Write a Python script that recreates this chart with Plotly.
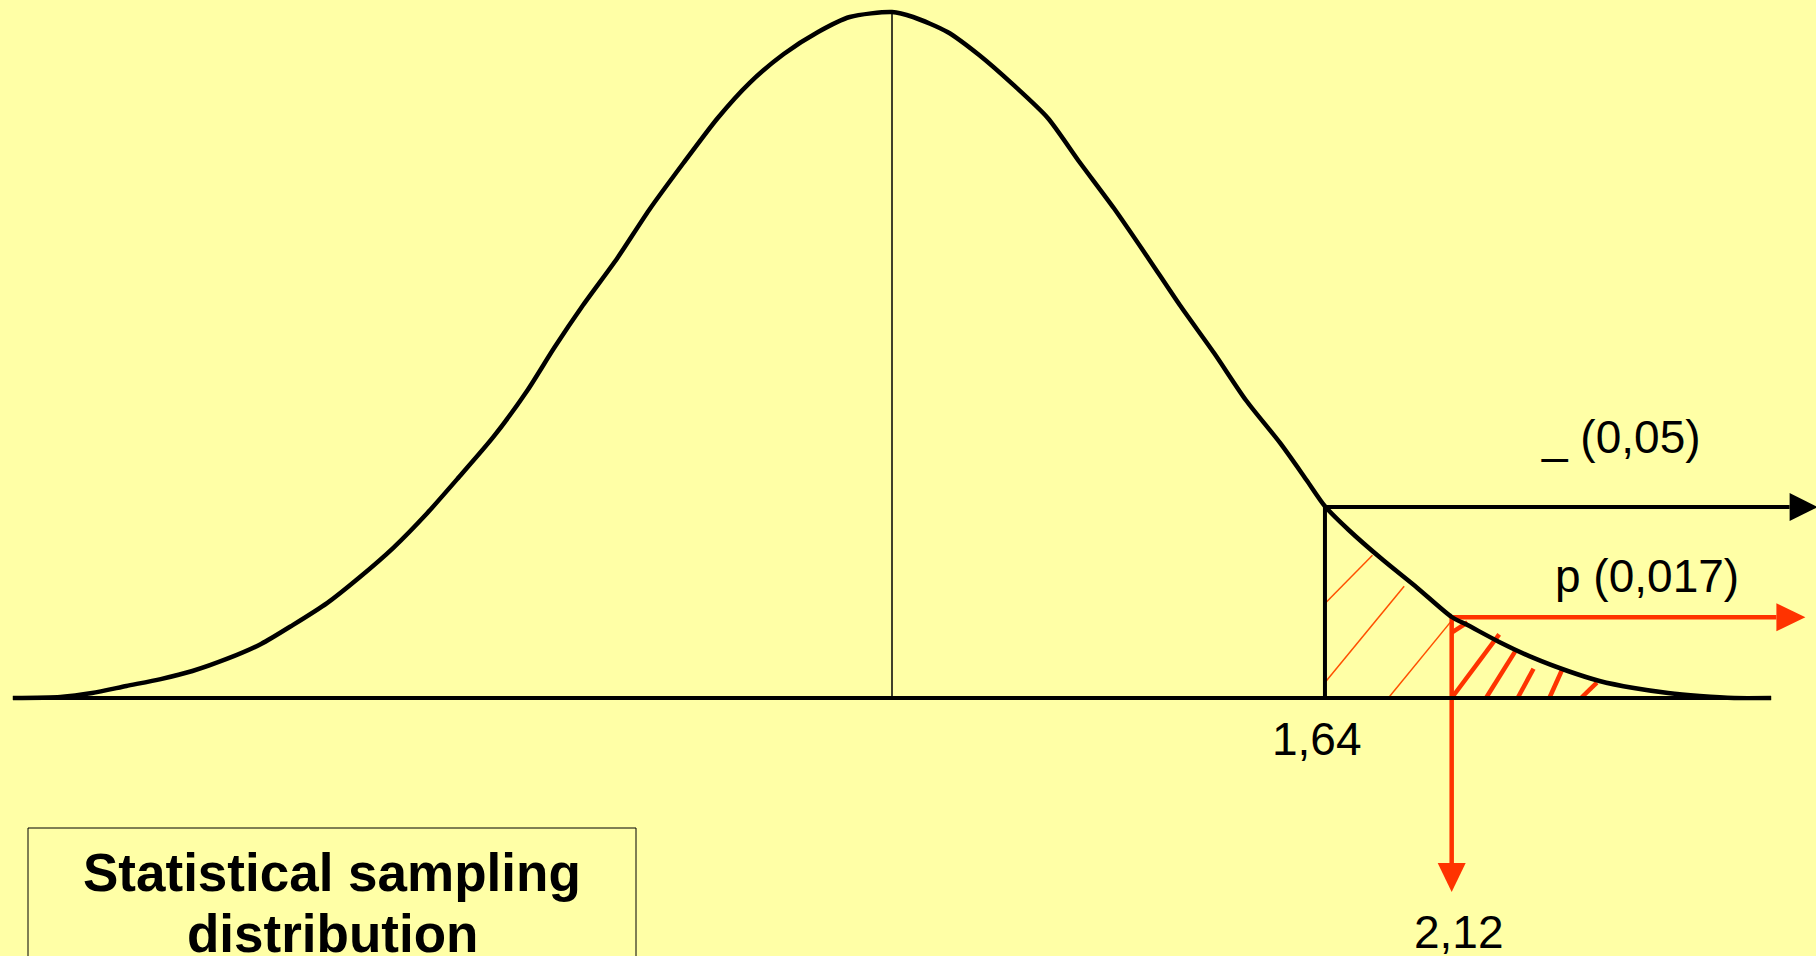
import plotly.graph_objects as go

# standard scores (sd units) and curve heights
z_curve = [-3.33, -3.15, -3.03, -2.90, -2.77, -2.65, -2.52, -2.39, -2.27, -2.14, -2.02,
           -1.89, -1.76, -1.64, -1.51, -1.38, -1.28, -1.17, -1.04, -0.92, -0.79,
           -0.66, -0.54, -0.41, -0.28, -0.16, 0.00, 0.08, 0.21, 0.33,
           0.46, 0.59, 0.71, 0.84, 0.97, 1.09, 1.22, 1.34, 1.47, 1.57,
           1.64, 1.73, 1.86, 1.99, 2.12, 2.18, 2.30, 2.43, 2.56, 2.68,
           2.81, 2.94, 3.06, 3.19, 3.33]
h_curve = [0.0, 0.0006, 0.0029, 0.0070, 0.0110, 0.0157, 0.0227, 0.0314, 0.0424, 0.0552, 0.0698,
           0.0872, 0.1076, 0.1285, 0.1518, 0.1791, 0.2035, 0.2285, 0.2559, 0.2838, 0.3111,
           0.3373, 0.3576, 0.3745, 0.3873, 0.3960, 0.3989, 0.3960, 0.3873, 0.3739,
           0.3565, 0.3373, 0.3117, 0.2849, 0.2559, 0.2285, 0.2006, 0.1733, 0.1483, 0.1268,
           0.1115, 0.0977, 0.0802, 0.0640, 0.0471, 0.0424, 0.0326, 0.0233, 0.0157, 0.0099,
           0.0058, 0.0029, 0.0012, 0.0, 0.0]

z_mean = 0.0
h_mean = 0.398
z_alpha = 1.64
h_alpha = 0.111
z_obs = 2.12
h_obs = 0.047

alpha_text = "_ (0,05)"
p_text = "p (0,017)"
z_alpha_text = "1,64"
z_obs_text = "2,12"
box_lines = ["Statistical sampling", "distribution"]

# hatching under the curve: thin between 1.64 and 2.12, thick beyond 2.12
thin_z0 = [1.64, 1.64, 1.88]
thin_h0 = [0.055, 0.009, 0.0]
thin_z1 = [1.82, 1.94, 2.12]
thin_h1 = [0.083, 0.065, 0.045]
thick_z0 = [2.12, 2.25, 2.37, 2.49, 2.61, 2.12]
thick_h0 = [0.0, 0.0, 0.0, 0.0, 0.0, 0.038]
thick_z1 = [2.30, 2.36, 2.43, 2.54, 2.67, 2.18]
thick_h1 = [0.037, 0.027, 0.017, 0.017, 0.009, 0.044]

bg = "#FFFFA6"
red = "#FF3300"
orange = "#FF5000"
font = "Liberation Sans, Arial, sans-serif"
W, H = 1816, 956


def segments(z0, h0, z1, h1):
    xs, ys = [], []
    for a, b, c, d in zip(z0, h0, z1, h1):
        xs += [a, c, None]
        ys += [b, d, None]
    return xs, ys


fig = go.Figure()

tx, ty = segments(thin_z0, thin_h0, thin_z1, thin_h1)
fig.add_trace(go.Scatter(x=tx, y=ty, mode="lines", line=dict(color=orange, width=1.5)))
kx, ky = segments(thick_z0, thick_h0, thick_z1, thick_h1)
fig.add_trace(go.Scatter(x=kx, y=ky, mode="lines", line=dict(color=red, width=4.5)))

# red arrows from the observed value
fig.add_trace(go.Scatter(x=[z_obs, 3.35], y=[h_obs, h_obs], mode="lines", line=dict(color=red, width=4.5)))
fig.add_trace(go.Scatter(x=[z_obs, z_obs], y=[h_obs, -0.096], mode="lines", line=dict(color=red, width=4.5)))

# black critical value lines
fig.add_trace(go.Scatter(x=[z_alpha, z_alpha], y=[0, h_alpha], mode="lines", line=dict(color="black", width=4)))
fig.add_trace(go.Scatter(x=[z_alpha, 3.40], y=[h_alpha, h_alpha], mode="lines", line=dict(color="black", width=4)))

# baseline, mean line and the curve
fig.add_trace(go.Scatter(x=[z_curve[0], z_curve[-1]], y=[0, 0], mode="lines", line=dict(color="black", width=4)))
fig.add_trace(go.Scatter(x=[z_mean, z_mean], y=[0, h_mean], mode="lines", line=dict(color="black", width=1.5)))
fig.add_trace(go.Scatter(x=z_curve, y=h_curve, mode="lines",
                         line=dict(color="black", width=4.5, shape="spline", smoothing=0.7)))

# arrow heads (pixel sized triangles anchored at the line ends)
heads = [
    (3.40, h_alpha, "M 0,14 L 28,0 L 0,-14 Z", "black"),
    (3.35, h_obs, "M 0,14 L 29,0 L 0,-14 Z", red),
    (z_obs, -0.096, "M -14,0 L 14,0 L 0,-29 Z", red),
]
for ax, ay, path, col in heads:
    fig.add_shape(type="path", path=path, xref="x", yref="y", xsizemode="pixel", ysizemode="pixel",
                  xanchor=ax, yanchor=ay, fillcolor=col, line=dict(color=col, width=0))

# title box
fig.add_shape(type="rect", xref="paper", yref="paper", x0=28 / W, x1=636 / W, y0=-0.1, y1=1 - 828 / H,
              line=dict(color="black", width=1), fillcolor="rgba(0,0,0,0)")

lab = dict(family=font, size=46, color="black")
fig.add_annotation(x=2.76, y=0.152, text=alpha_text, showarrow=False, font=lab)
fig.add_annotation(x=2.86, y=0.071, text=p_text, showarrow=False, font=lab)
fig.add_annotation(x=z_alpha, y=-0.024, text=z_alpha_text, showarrow=False, xshift=-8, font=lab)
fig.add_annotation(x=z_obs, y=-0.136, text=z_obs_text, showarrow=False, xshift=7, font=lab)

bold = dict(family=font, size=53, color="black", weight="bold")
fig.add_annotation(xref="paper", yref="paper", x=332 / W, y=1 - 872 / H, text=box_lines[0],
                   xanchor="center", yanchor="middle", showarrow=False, font=bold)
fig.add_annotation(xref="paper", yref="paper", x=332 / W, y=1 - 933 / H, text=box_lines[1],
                   xanchor="center", yanchor="middle", showarrow=False, font=bold)

fig.update_layout(
    width=W, height=H,
    margin=dict(l=0, r=0, t=0, b=0),
    paper_bgcolor=bg, plot_bgcolor=bg,
    showlegend=False,
    xaxis=dict(range=[-892 / 264, 924 / 264], visible=False, fixedrange=True),
    yaxis=dict(range=[-258 / 1719.7, 698 / 1719.7], visible=False, fixedrange=True),
)

fig.write_html("out.html", config={"displayModeBar": False},
               post_script="document.body.style.margin = '0';")
